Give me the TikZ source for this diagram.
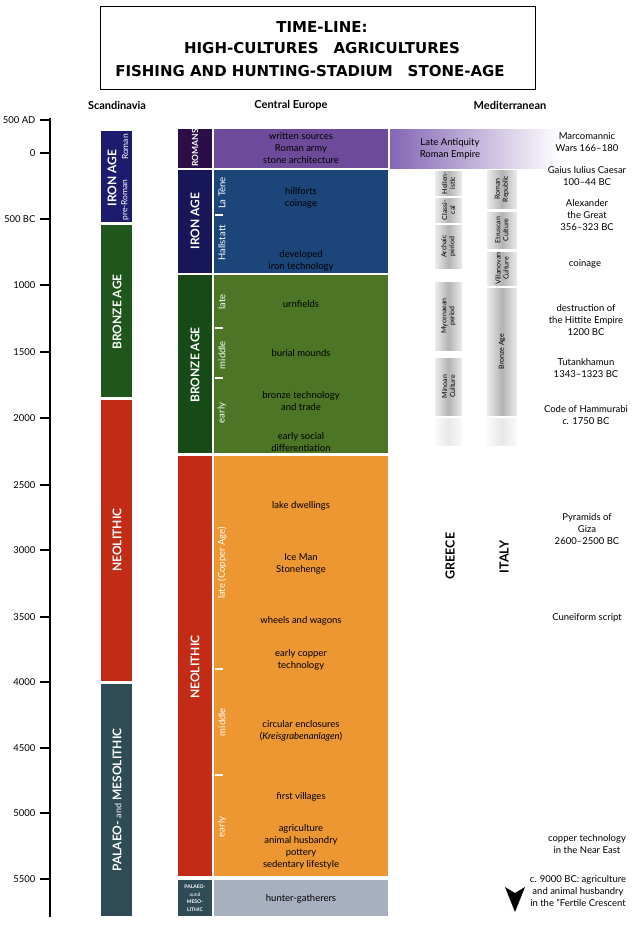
\documentclass[tikz,border=0pt]{standalone}
\usepackage{fontspec}
\setmainfont{Lato}
\newfontfamily\titlefont{DejaVu Sans}
\usetikzlibrary{calc}

\definecolor{RomDark}{HTML}{2B0E47}
\definecolor{RomLight}{HTML}{6E4B9A}
\definecolor{AntLight}{HTML}{8466B5}
\definecolor{IronScan}{HTML}{1D1B6E}
\definecolor{IronDark}{HTML}{161659}
\definecolor{IronLight}{HTML}{1C4679}
\definecolor{BronzeScan}{HTML}{1E561B}
\definecolor{BronzeDark}{HTML}{184A18}
\definecolor{BronzeLight}{HTML}{4C7625}
\definecolor{NeoDark}{HTML}{C22B15}
\definecolor{NeoLight}{HTML}{ED9733}
\definecolor{PalDark}{HTML}{2E4B56}
\definecolor{PalLight}{HTML}{A7B0BF}

\tikzset{
  era/.style={rotate=90,text=white,font=\bfseries\fontsize{12}{12}\selectfont},
  phase/.style={rotate=90,text=white,font=\fontsize{9.5}{9.5}\selectfont},
  fact/.style={align=center,font=\fontsize{9.5}{12}\selectfont},
  culture/.style={rotate=90,align=center,font=\fontsize{7}{8}\selectfont},
  cylbox/.style={left color=gray!15,right color=gray!15,middle color=gray!60},
  fadebox/.style={left color=gray!4,right color=gray!4,middle color=gray!18},
  yearlab/.style={anchor=east,font=\fontsize{9.5}{9.5}\selectfont},
  colhead/.style={font=\bfseries\fontsize{11}{11}\selectfont},
  headline/.style={font=\titlefont\bfseries\fontsize{15}{15}\selectfont},
  country/.style={rotate=90,font=\bfseries\fontsize{12.5}{12.5}\selectfont},
}

\begin{document}
\begin{tikzpicture}[x=1pt,y=-1pt]
\useasboundingbox (0,0) rectangle (640,930);

% title
\draw[line width=0.8pt] (100,6) rectangle (535,89);
\node[headline] (title1) at (322,27) {TIME-LINE:};
\node[headline] (title2) at (322,48) {HIGH-CULTURES\quad AGRICULTURES};
\node[headline] (title3) at (310,71) {FISHING AND HUNTING-STADIUM\quad STONE-AGE};

\node[colhead] (hScan) at (117,105) {Scandinavia};
\node[colhead] (hCent) at (291,105) {Central Europe};
\node[colhead] (hMed) at (510,105) {Mediterranean};

% time axis
\draw[line width=2.5pt] (50,118) -- (50,917);
\foreach \yy/\lab [count=\i] in {120/500 AD,153/0,219/500 BC,285/1000,352/1500,418/2000,485/2500,550/3000,617/3500,682/4000,748/4500,813/5000,879/5500}{
  \draw[line width=1.5pt] (40,\yy) -- (50,\yy);
  \node[yearlab] (year\i) at (39,\yy) {\lab};
}

% Scandinavia
\fill[IronScan] (101,131) rectangle (132,222);
\node[era] (scIron) at (112,178) {IRON AGE};
\node[phase,font=\fontsize{8.5}{8.5}\selectfont] (scRoman) at (125,147) {Roman};
\node[phase,font=\fontsize{8.5}{8.5}\selectfont] (scPre) at (125,200) {pre-Roman};
\fill[BronzeScan] (101,225) rectangle (132,397);
\node[era] (scBronze) at (117,312) {BRONZE AGE};
\fill[NeoDark] (101,400) rectangle (132,681);
\node[era] (scNeo) at (117,540) {NEOLITHIC};
\fill[PalDark] (101,684) rectangle (132,916);
\node[era] (scPal) at (117,800) {PALAEO- {\mdseries\fontsize{9}{9}\selectfont and} MESOLITHIC};

% Central Europe
\fill[RomDark] (178,129) rectangle (212,168);
\fill[RomLight] (214,129) rectangle (388,168);
\node[era,font=\bfseries\fontsize{8.5}{8.5}\selectfont] (ceRom) at (195,148) {ROMANS};
\node[fact] (romFacts) at (301,148) {written sources\\Roman army\\stone architecture};

\fill[IronDark] (178,170) rectangle (212,273);
\fill[IronLight] (214,170) rectangle (388,273);
\node[era] (ceIron) at (195,221) {IRON AGE};
\node[phase] (latene) at (222,193) {La Tène};
\node[phase] (hallst) at (222,243) {Hallstatt};
\node[fact] (ironA) at (301,198) {hillforts\\coinage};
\node[fact] (ironB) at (301,261) {developed\\iron technology};

\fill[BronzeDark] (178,275) rectangle (212,453);
\fill[BronzeLight] (214,275) rectangle (388,453);
\node[era] (ceBronze) at (195,365) {BRONZE AGE};
\node[phase] (bLate) at (222,302) {late};
\node[phase] (bMid) at (222,355) {middle};
\node[phase] (bEarly) at (222,413) {early};
\node[fact] (brA) at (301,304) {urnfields};
\node[fact] (brB) at (301,353) {burial mounds};
\node[fact] (brC) at (301,401) {bronze technology\\and trade};
\node[fact] (brD) at (301,442) {early social\\differentiation};

\fill[NeoDark] (178,456) rectangle (212,876);
\fill[NeoLight] (214,456) rectangle (388,876);
\node[era] (ceNeo) at (195,667) {NEOLITHIC};
\node[phase] (nLate) at (222,563) {late (Copper Age)};
\node[phase] (nMid) at (222,722) {middle};
\node[phase] (nEarly) at (222,827) {early};
\node[fact] (neoA) at (301,506) {lake dwellings};
\node[fact] (neoB) at (301,564) {Ice Man\\Stonehenge};
\node[fact] (neoC) at (301,621) {wheels and wagons};
\node[fact] (neoD) at (301,660) {early copper\\technology};
\node[fact] (neoE) at (301,731) {circular enclosures\\(\textit{Kreisgrabenanlagen})};
\node[fact] (neoF) at (301,797) {first villages};
\node[fact] (neoG) at (301,847) {agriculture\\animal husbandry\\pottery\\sedentary lifestyle};

\fill[PalDark] (178,880) rectangle (212,916);
\fill[PalLight] (214,880) rectangle (388,916);
\node[align=center,text=white,font=\bfseries\fontsize{5}{7.5}\selectfont] (cePal) at (195,898) {PALAEO-\\{\mdseries aund}\\MESO-\\LITHIC};
\node[fact] (palA) at (301,899) {hunter-gatherers};

\foreach \yy in {215,328,378,669,775}
  \draw[white,line width=1.2pt] (215,\yy) -- (223,\yy);

% Mediterranean
\shade[left color=AntLight,right color=white] (390,129) rectangle (560,168);
\node[fact] (lateAnt) at (450,149) {Late Antiquity\\Roman Empire};

\shade[cylbox] (435,171) rectangle (462,195);
\node[culture] (grHell) at (448.5,183) {Hellen-\\istic};
\shade[cylbox] (435,198) rectangle (462,222);
\node[culture] (grClass) at (448.5,210) {Classi-\\cal};
\shade[cylbox] (435,225) rectangle (462,268);
\node[culture] (grArch) at (448.5,246.5) {Archaic\\period};
\shade[cylbox] (435,282) rectangle (462,350);
\node[culture] (grMyc) at (448.5,316) {Mycenaean\\period};
\shade[cylbox] (435,358) rectangle (462,415);
\node[culture] (grMin) at (448.5,386.5) {Minoan\\Culture};
\shade[fadebox] (435,418) rectangle (462,445);

\shade[cylbox] (487,170) rectangle (517,208);
\node[culture] (itRep) at (502,189) {Roman\\Republic};
\shade[cylbox] (487,212) rectangle (517,248);
\node[culture] (itEtr) at (502,230) {Etruscan\\Culture};
\shade[cylbox] (487,252) rectangle (517,285);
\node[culture] (itVil) at (502,268.5) {Villanovan\\Culture};
\shade[cylbox] (487,288) rectangle (517,415);
\node[culture] (itBro) at (502,351.5) {Bronze Age};
\shade[fadebox] (487,418) rectangle (517,445);

\node[country] (greece) at (450,556) {GREECE};
\node[country] (italy) at (504,557) {ITALY};

\node[fact] (evA) at (587,142) {Marcomannic\\Wars 166--180};
\node[fact] (evB) at (587,176) {Gaius Iulius Caesar\\100--44 BC};
\node[fact] (evC) at (587,215) {Alexander\\the Great\\356--323 BC};
\node[fact] (evD) at (585,264) {coinage};
\node[fact] (evE) at (586,320) {destruction of\\the Hittite Empire\\1200 BC};
\node[fact] (evF) at (586,368) {Tutankhamun\\1343--1323 BC};
\node[fact] (evG) at (586,415) {Code of Hammurabi\\\textit{c.} 1750 BC};
\node[fact] (evH) at (587,529) {Pyramids of\\Giza\\2600--2500 BC};
\node[fact] (evI) at (587,618) {Cuneiform script};
\node[fact] (evJ) at (587,844) {copper technology\\in the Near East};
\node[fact] (evK) at (578,891) {c. 9000 BC: agriculture\\and animal husbandry\\in the "Fertile Crescent};
\coordinate (arrL) at (505,887);
\coordinate (arrR) at (525,887);
\coordinate (arrT) at (515,912);
\fill (arrL) -- (515,893) -- (arrR) -- (arrT) -- cycle;
\end{tikzpicture}
\end{document}
